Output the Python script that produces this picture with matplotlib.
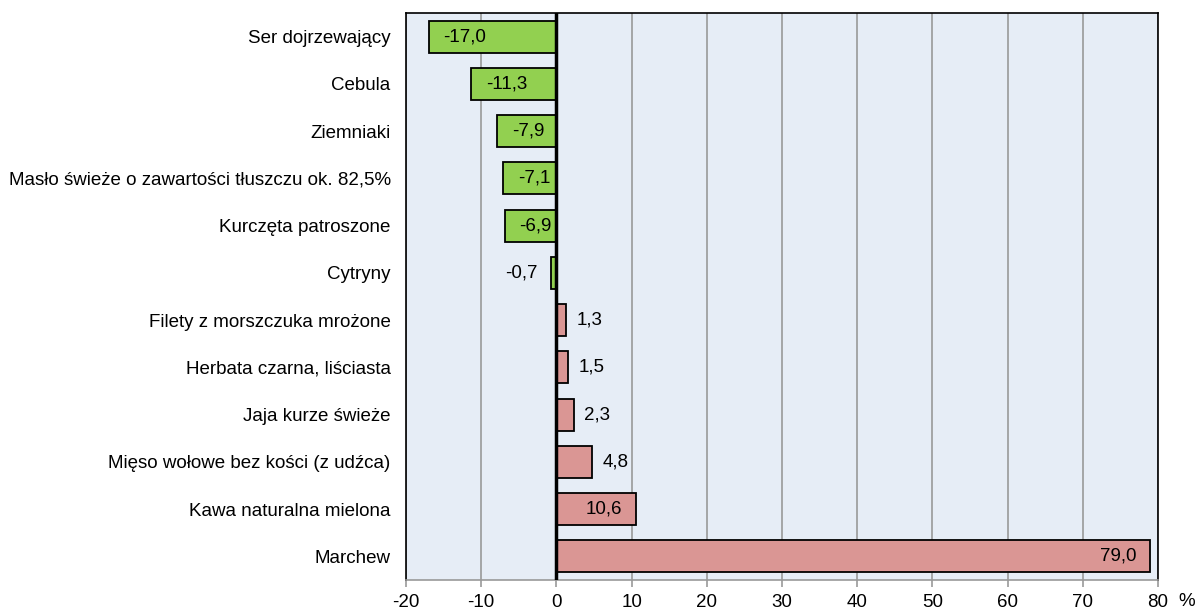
import matplotlib.pyplot as plt
import numpy as np

plt.rcParams['font.family'] = ['Liberation Sans', 'DejaVu Sans']

# dane
produkty = ['Ser dojrzewający', 'Cebula', 'Ziemniaki',
            'Masło świeże o zawartości tłuszczu ok. 82,5%',
            'Kurczęta patroszone', 'Cytryny', 'Filety z morszczuka mrożone',
            'Herbata czarna, liściasta', 'Jaja kurze świeże',
            'Mięso wołowe bez kości (z udźca)', 'Kawa naturalna mielona',
            'Marchew']
zmiana = [-17.0, -11.3, -7.9, -7.1, -6.9, -0.7, 1.3, 1.5, 2.3, 4.8, 10.6, 79.0]
ticks_x = [-20, -10, 0, 10, 20, 30, 40, 50, 60, 70, 80]

fs = 13.5

fig = plt.figure(figsize=(12.01, 6.11), dpi=100)
ax = fig.add_axes([406 / 1201, 1 - 580 / 611, 752 / 1201, 567 / 611])
ax.set_facecolor('#E6EDF6')

y = np.arange(len(produkty))
kolory = ['#92D050' if v < 0 else '#DA9694' for v in zmiana]
ax.barh(y, zmiana, height=0.68, color=kolory, edgecolor='black', linewidth=1.3, zorder=3)

ax.set_xlim(-20, 80)
ax.set_ylim(len(produkty) - 0.5, -0.5)
ax.set_xticks(ticks_x)
ax.set_xticklabels([str(t) for t in ticks_x], fontsize=fs)
ax.set_yticks(y)
ax.set_yticklabels(produkty, fontsize=fs)
ax.tick_params(axis='y', length=0, pad=11)
ax.tick_params(axis='x', direction='out', length=5, color='#999999', width=1.2, pad=5)
ax.grid(axis='x', color='#999999', linewidth=1.2, zorder=1)
ax.axvline(0, color='black', linewidth=2.5, zorder=4)
for s in ax.spines.values():
    s.set_linewidth(1.2)
ax.spines['bottom'].set_color('#999999')

# etykiety wartości
for i, v in enumerate(zmiana):
    tekst = f'{v:.1f}'.replace('.', ',')
    if v <= -5:
        ax.text(v + 2, i, tekst, ha='left', va='center', fontsize=fs, zorder=5)
    elif v >= 5:
        ax.text(v - 1.8, i, tekst, ha='right', va='center', fontsize=fs, zorder=5)
    elif v < 0:
        ax.text(v - 1.8, i, tekst, ha='right', va='center', fontsize=fs, zorder=5)
    else:
        ax.text(v + 1.4, i, tekst, ha='left', va='center', fontsize=fs, zorder=5)

fig.text(1187 / 1201, 1 - 601 / 611, '%', ha='center', va='center', fontsize=fs)

fig.savefig('out.png', dpi=100)
